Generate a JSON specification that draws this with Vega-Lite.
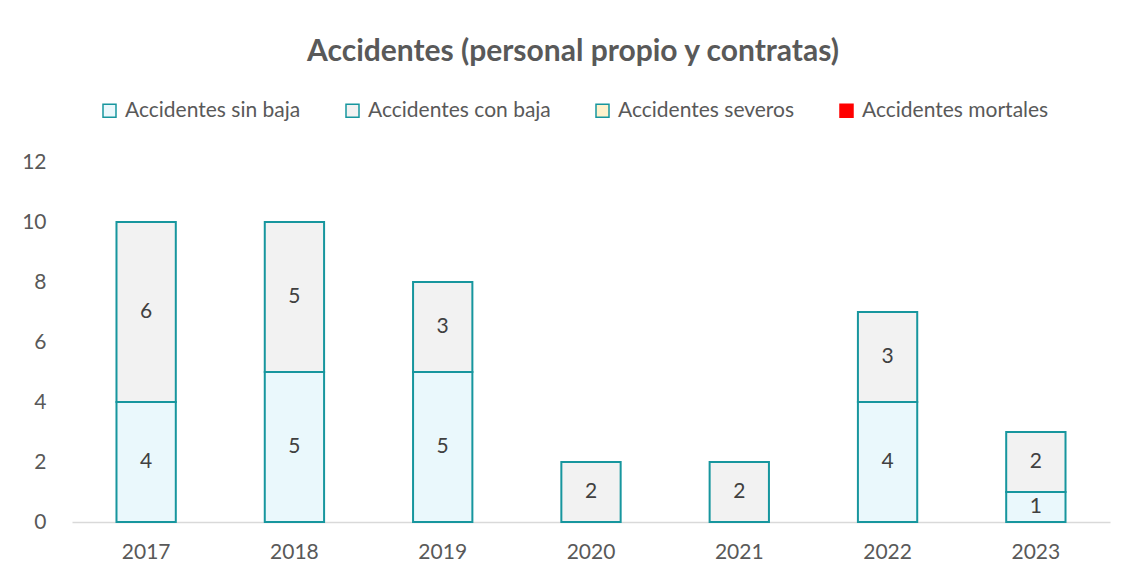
{
  "$schema": "https://vega.github.io/schema/vega-lite/v6.json",
  "autosize": "none",
  "width": 1038,
  "height": 360,
  "padding": {"left": 72, "top": 162, "right": 19, "bottom": 62},
  "background": "white",
  "config": {"view": {"stroke": null}, "font": "Lato"},
  "title": {
    "text": "Accidentes (personal propio y contratas)",
    "fontSize": 30,
    "fontWeight": "bold",
    "color": "#595959",
    "anchor": "middle",
    "frame": "group",
    "dx": -18,
    "offset": 33
  },
  "data": {
    "values": [
      {"year": "2017", "tipo": "Accidentes sin baja", "o": 1, "value": 4},
      {"year": "2017", "tipo": "Accidentes con baja", "o": 2, "value": 6},
      {"year": "2018", "tipo": "Accidentes sin baja", "o": 1, "value": 5},
      {"year": "2018", "tipo": "Accidentes con baja", "o": 2, "value": 5},
      {"year": "2019", "tipo": "Accidentes sin baja", "o": 1, "value": 5},
      {"year": "2019", "tipo": "Accidentes con baja", "o": 2, "value": 3},
      {"year": "2020", "tipo": "Accidentes con baja", "o": 2, "value": 2},
      {"year": "2021", "tipo": "Accidentes con baja", "o": 2, "value": 2},
      {"year": "2022", "tipo": "Accidentes sin baja", "o": 1, "value": 4},
      {"year": "2022", "tipo": "Accidentes con baja", "o": 2, "value": 3},
      {"year": "2023", "tipo": "Accidentes sin baja", "o": 1, "value": 1},
      {"year": "2023", "tipo": "Accidentes con baja", "o": 2, "value": 2}
    ]
  },
  "transform": [
    {"stack": "value", "groupby": ["year"], "sort": [{"field": "o"}], "as": ["v0", "v1"]}
  ],
  "layer": [
    {
      "mark": {"type": "bar", "strokeWidth": 2},
      "encoding": {
        "x": {
          "field": "year", "type": "nominal",
          "scale": {"paddingInner": 0.6, "paddingOuter": 0.3},
          "axis": {
            "title": null, "labelAngle": 0, "labelFontSize": 21, "labelColor": "#595959",
            "ticks": false, "domainColor": "#D9D9D9", "domainWidth": 1.5, "labelPadding": 19
          }
        },
        "y": {
          "field": "v0", "type": "quantitative",
          "scale": {"domain": [0, 12]},
          "axis": {
            "title": null, "values": [0, 2, 4, 6, 8, 10, 12], "grid": false, "domain": false,
            "ticks": false, "labelFontSize": 21, "labelColor": "#595959", "labelPadding": 26
          }
        },
        "y2": {"field": "v1"},
        "fill": {
          "field": "tipo", "type": "nominal",
          "scale": {
            "domain": ["Accidentes sin baja", "Accidentes con baja", "Accidentes severos", "Accidentes mortales"],
            "range": ["#EAF8FC", "#F2F2F2", "#FFF2CC", "#FF0000"]
          },
          "legend": {
            "title": null, "orient": "none", "legendX": 27, "legendY": -62, "direction": "horizontal",
            "symbolType": "square", "symbolSize": 169, "symbolStrokeWidth": 1.5, "labelLimit": 400,
            "labelFontSize": 21, "labelColor": "#595959", "columnPadding": 41, "labelOffset": 5
          }
        },
        "stroke": {
          "field": "tipo", "type": "nominal",
          "scale": {
            "domain": ["Accidentes sin baja", "Accidentes con baja", "Accidentes severos", "Accidentes mortales"],
            "range": ["#17969E", "#17969E", "#17969E", "#FF0000"]
          },
          "legend": {
            "title": null, "orient": "none", "legendX": 27, "legendY": -62, "direction": "horizontal",
            "symbolType": "square", "symbolSize": 169, "symbolStrokeWidth": 1.5, "labelLimit": 400,
            "labelFontSize": 21, "labelColor": "#595959", "columnPadding": 41, "labelOffset": 5
          }
        }
      }
    },
    {
      "transform": [
        {"fold": ["v0", "v1"], "as": ["k", "pos"]}
      ],
      "mark": {"type": "text", "fontSize": 21, "color": "#404040", "baseline": "middle"},
      "encoding": {
        "x": {"field": "year", "type": "nominal"},
        "y": {"field": "pos", "type": "quantitative", "aggregate": "mean"},
        "detail": {"field": "tipo"},
        "text": {"field": "value", "type": "quantitative", "aggregate": "max"}
      }
    }
  ]
}
